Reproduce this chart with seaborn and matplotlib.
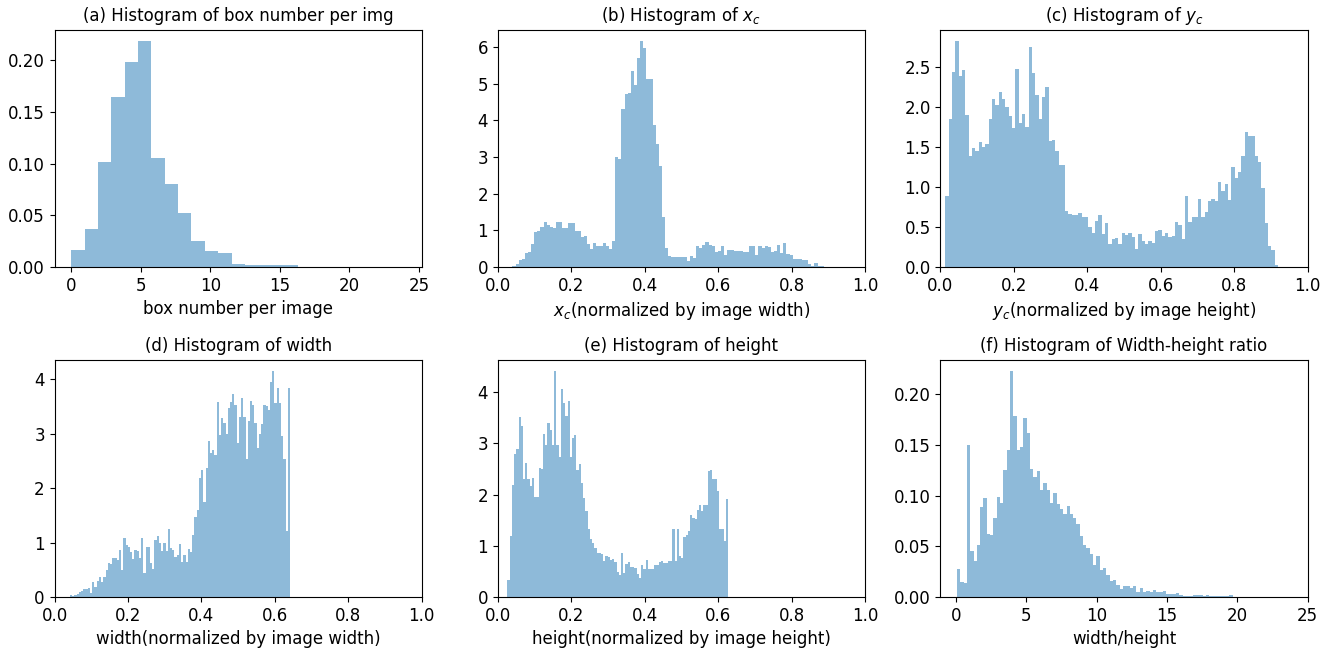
import numpy as np
import pandas as pd
import matplotlib
matplotlib.use("Agg")
import matplotlib.pyplot as plt
import seaborn as sns

plt.rcParams["font.family"] = ["DejaVu Sans"]
plt.rcParams["font.size"] = 12

# (a) box number per image: 25 bins over [0, 24]
box_range = (0, 24)
box_density = [0.0165, 0.0365, 0.1016, 0.1642, 0.1987, 0.2187, 0.1052, 0.0806,
               0.0523, 0.0255, 0.0155, 0.0132, 0.0029, 0.0023, 0.0016, 0.0016,
               0.0016, 0, 0, 0, 0, 0, 0, 0, 0]

# (b) x_c, 100 bins
xc_range = (0.04, 0.888)
xc_density = [0.04, 0.09, 0.19, 0.23, 0.37, 0.41, 0.64, 0.96, 0.98, 1.09,
              1.23, 1.15, 1.10, 1.07, 1.23, 1.23, 1.07, 1.07, 1.21, 1.19,
              0.99, 0.99, 0.81, 0.85, 0.62, 0.48, 0.65, 0.58, 0.58, 0.65,
              0.58, 0.48, 0.71, 2.99, 2.95, 4.31, 4.71, 4.73, 5.35, 4.96,
              5.69, 6.16, 5.96, 5.13, 5.13, 3.87, 3.35, 2.74, 1.37, 0.52,
              0.31, 0.28, 0.28, 0.28, 0.28, 0.28, 0.15, 0.31, 0.25, 0.58,
              0.53, 0.59, 0.67, 0.60, 0.57, 0.41, 0.44, 0.57, 0.34, 0.45,
              0.45, 0.44, 0.43, 0.43, 0.41, 0.41, 0.57, 0.57, 0.32, 0.57,
              0.51, 0.56, 0.55, 0.41, 0.44, 0.60, 0.38, 0.65, 0.36, 0.34,
              0.23, 0.23, 0.21, 0.18, 0.18, 0.07, 0.04, 0.11, 0.04, 0.02]

# (c) y_c, 100 bins
yc_range = (0.0136, 0.919)
yc_density = [0.88, 1.85, 2.43, 2.82, 2.38, 2.46, 1.90, 1.39, 1.48, 1.45,
              1.56, 1.50, 1.53, 1.85, 2.10, 2.02, 2.18, 2.10, 2.00, 1.89,
              1.73, 2.47, 1.80, 1.91, 1.75, 2.75, 2.42, 2.15, 1.85, 2.12,
              2.25, 1.57, 1.58, 1.45, 1.27, 1.27, 0.70, 0.66, 0.65, 0.65,
              0.68, 0.63, 0.63, 0.50, 0.43, 0.58, 0.65, 0.41, 0.55, 0.29,
              0.35, 0.36, 0.29, 0.43, 0.40, 0.43, 0.37, 0.22, 0.41, 0.33,
              0.29, 0.33, 0.30, 0.45, 0.46, 0.39, 0.42, 0.37, 0.39, 0.56,
              0.53, 0.35, 0.88, 0.56, 0.62, 0.62, 0.85, 0.63, 0.69, 0.82,
              0.85, 0.82, 1.06, 0.95, 1.03, 0.83, 1.25, 1.11, 1.19, 1.38,
              1.68, 1.63, 1.63, 1.39, 1.31, 0.99, 0.55, 0.26, 0.21, 0.02]

# (d) width
width_range = (0.042, 0.641)
width_density = [0.04, 0.01, 0.04, 0.06, 0.10, 0.11, 0.14, 0.14, 0.16, 0.08,
                 0.27, 0.18, 0.29, 0.36, 0.28, 0.36, 0.49, 0.62, 0.61, 0.72,
                 0.72, 0.68, 0.86, 0.49, 1.08, 0.96, 0.92, 0.82, 0.70, 0.86,
                 0.84, 0.72, 1.08, 0.45, 0.91, 0.91, 0.62, 0.51, 1.04, 1.12,
                 1.00, 0.85, 1.00, 0.85, 1.24, 0.90, 0.87, 0.73, 0.77, 0.98,
                 0.65, 0.77, 0.65, 0.89, 0.83, 1.14, 1.47, 1.60, 2.18, 2.34,
                 1.75, 2.37, 2.86, 2.65, 2.70, 2.61, 3.58, 2.97, 3.28, 3.19,
                 2.99, 3.48, 3.58, 3.72, 3.52, 2.83, 3.31, 3.65, 3.30, 2.54,
                 3.23, 3.60, 3.53, 3.19, 2.73, 2.99, 3.17, 3.52, 3.50, 3.44,
                 3.95, 4.15, 3.57, 3.83, 3.57, 2.95, 2.53, 1.22, 3.83]

# (e) height
height_range = (0.0263, 0.627)
height_density = [0.33, 1.19, 2.19, 2.79, 2.89, 3.52, 3.34, 2.30, 2.61, 2.30,
                  2.17, 2.32, 1.96, 1.95, 2.52, 2.49, 3.19, 2.97, 3.40, 3.26,
                  2.96, 4.41, 2.97, 2.73, 4.06, 3.78, 3.53, 3.83, 2.73, 3.11,
                  3.16, 2.47, 2.60, 2.23, 1.94, 1.67, 1.32, 1.13, 1.06, 0.96,
                  0.85, 0.85, 0.83, 0.71, 0.80, 0.79, 0.73, 0.75, 0.69, 0.49,
                  0.43, 0.85, 0.46, 0.64, 0.68, 0.58, 0.59, 0.56, 0.45, 0.38,
                  0.62, 0.54, 0.73, 0.55, 0.55, 0.55, 0.62, 0.62, 0.68, 0.70,
                  0.67, 0.67, 0.70, 0.70, 1.32, 0.70, 1.32, 0.80, 0.77, 1.18,
                  1.22, 1.29, 1.61, 1.55, 1.52, 1.69, 1.80, 1.68, 1.80, 1.80,
                  2.46, 2.47, 2.30, 2.30, 2.07, 1.33, 1.33, 1.09, 1.91]

# (f) width/height ratio
ratio_range = (0.07, 23.67)
ratio_density = [0.028, 0.015, 0.014, 0.150, 0.045, 0.036, 0.051, 0.089, 0.098, 0.0625,
                 0.061, 0.078, 0.099, 0.093, 0.125, 0.145, 0.223, 0.179, 0.145, 0.148,
                 0.177, 0.162, 0.126, 0.118, 0.124, 0.106, 0.113, 0.106, 0.093, 0.103,
                 0.092, 0.087, 0.082, 0.090, 0.082, 0.078, 0.072, 0.060, 0.051, 0.048,
                 0.042, 0.032, 0.040, 0.027, 0.029, 0.022, 0.016, 0.017, 0.012, 0.0076,
                 0.011, 0.011, 0.0086, 0.0105, 0.005, 0.0086, 0.005, 0.006, 0.005, 0.0066,
                 0.0046, 0.0046, 0.006, 0.0026, 0.0026, 0.0026, 0.0036, 0.0016, 0.0013, 0.0013,
                 0.0013, 0.0016, 0.0016, 0.0016, 0.0013, 0.0016, 0.0007, 0.0007, 0.0007, 0.0007,
                 0.0007, 0.0007, 0.002, 0, 0, 0, 0, 0, 0, 0,
                 0, 0, 0, 0, 0, 0, 0, 0, 0, 0]

panels = [
    (box_density, box_range, "(a) Histogram of box number per img",
     "box number per image", (-1.2, 25.2)),
    (xc_density, xc_range, "(b) Histogram of $x_c$",
     "$x_c$(normalized by image width)", (0, 1)),
    (yc_density, yc_range, "(c) Histogram of $y_c$",
     "$y_c$(normalized by image height)", (0, 1)),
    (width_density, width_range, "(d) Histogram of width",
     "width(normalized by image width)", (0, 1)),
    (height_density, height_range, "(e) Histogram of height",
     "height(normalized by image height)", (0, 1)),
    (ratio_density, ratio_range, "(f) Histogram of Width-height ratio",
     "width/height", (-1.1, 25.0)),
]

fig = plt.figure(figsize=(13.34, 6.49), dpi=100)
lefts = [0.0409, 0.3731, 0.7050]
bottoms = [0.5886, 0.0801]
w, h = 0.2753, 0.3656

for k, (dens, rng, title, xlabel, xlim) in enumerate(panels):
    ax = fig.add_axes([lefts[k % 3], bottoms[k // 3], w, h])
    n = len(dens)
    step = (rng[1] - rng[0]) / n
    df = pd.DataFrame({
        "center": rng[0] + step * (np.arange(n) + 0.5),
        "density": dens,
    })
    sns.histplot(data=df, x="center", weights="density", bins=n,
                 binrange=rng, stat="count", color="C0", alpha=0.5,
                 linewidth=0, ax=ax)
    ax.set_xlim(*xlim)
    ax.set_title(title, fontsize=12)
    ax.set_xlabel(xlabel, fontsize=12)
    ax.set_ylabel("")

fig.savefig("out.png", dpi=100)
